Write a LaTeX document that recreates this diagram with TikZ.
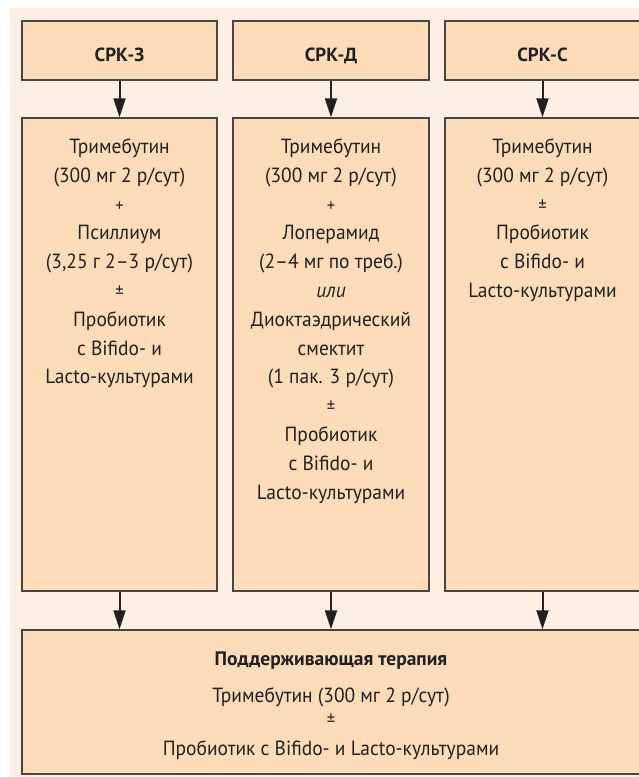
\documentclass[tikz,border=0pt]{standalone}
\usepackage{fontspec}
\setmainfont[FakeStretch=0.95]{PT Sans}
\newfontfamily\headfont{PT Sans}
\usetikzlibrary{arrows.meta}
\definecolor{bgpanel}{HTML}{FDEFE3}
\definecolor{boxfill}{HTML}{FDDCBA}
\definecolor{boxline}{HTML}{4A4542}
\definecolor{txt}{HTML}{231F20}
\tikzset{
  box/.style={draw=boxline, fill=boxfill, line width=1.3pt, inner sep=0pt},
  headtxt/.style={font=\headfont\fontsize{19}{23}\selectfont\bfseries, text=txt, inner sep=0pt, anchor=base},
  bodytxt/.style={font=\fontsize{20.5}{28.8}\selectfont, text=txt, align=center, inner sep=0pt, anchor=north},
  arr/.style={draw=txt, line width=2pt, -{Triangle[length=19pt,width=12pt]}},
}
\newcommand{\sm}[1]{{\fontsize{17.5}{28.8}\selectfont #1}}
\begin{document}
\begin{tikzpicture}[x=1pt,y=-1pt]
\useasboundingbox (0,0) rectangle (639,777);
\begin{scope}
\clip (0,0) rectangle (639,777);
\fill[bgpanel] (10,8) rectangle (645,785);
% headers
\node[box, minimum width=195pt, minimum height=59pt] (h1) at (119.5,50.5) {};
\node[box, minimum width=196pt, minimum height=59pt] (h2) at (331,50.5) {};
\node[box, minimum width=195pt, minimum height=59pt] (h3) at (542.5,50.5) {};
\node[headtxt] (h1t) at (119.5,61) {СРК-З};
\node[headtxt] (h2t) at (331,61) {СРК-Д};
\node[headtxt] (h3t) at (542.5,61) {СРК-С};
% middle boxes
\node[box, minimum width=195pt, minimum height=473pt] (m1) at (119.5,354.5) {};
\node[box, minimum width=196pt, minimum height=473pt] (m2) at (331,354.5) {};
\node[box, minimum width=195pt, minimum height=473pt] (m3) at (542.5,354.5) {};
\node[bodytxt] (m1t) at (119.5,138.5) {Тримебутин\\(300 мг 2 р/сут)\\\sm{+}\\Псиллиум\\(3,25 г 2–3 р/сут)\\\sm{±}\\Пробиотик\\с Bifido- и\\Lacto-культурами};
\node[bodytxt] (m2t) at (331,138.5) {Тримебутин\\(300 мг 2 р/сут)\\\sm{+}\\Лоперамид\\(2–4 мг по треб.)\\\textit{или}\\Диоктаэдрический\\смектит\\(1 пак. 3 р/сут)\\\sm{±}\\Пробиотик\\с Bifido- и\\Lacto-культурами};
\node[bodytxt] (m3t) at (542.5,138.5) {Тримебутин\\(300 мг 2 р/сут)\\\sm{±}\\Пробиотик\\с Bifido- и\\Lacto-культурами};
% bottom box
\node[box, minimum width=618pt, minimum height=144pt] (b) at (331,702) {};
\node[bodytxt, anchor=base, font=\headfont\fontsize{19.5}{24}\selectfont\bfseries] (bt1) at (331,665) {Поддерживающая терапия};
\node[bodytxt, anchor=base] (bt2) at (331,702) {Тримебутин (300 мг 2 р/сут)};
\node[bodytxt, anchor=base] (bt3) at (331,725) {\sm{±}};
\node[bodytxt, anchor=base] (bt4) at (331,755) {Пробиотик с Bifido- и Lacto-культурами};
% arrows
\draw[arr] (h1.south) -- (m1.north);
\draw[arr] (h2.south) -- (m2.north);
\draw[arr] (h3.south) -- (m3.north);
\draw[arr] (m1.south) -- (m1.south |- b.north);
\draw[arr] (m2.south) -- (m2.south |- b.north);
\draw[arr] (m3.south) -- (m3.south |- b.north);
\end{scope}
\end{tikzpicture}
\end{document}
